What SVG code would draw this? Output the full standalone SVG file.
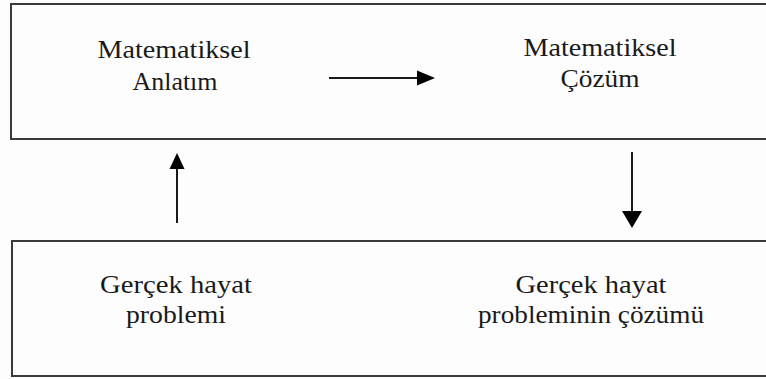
<svg xmlns="http://www.w3.org/2000/svg" width="766" height="379" viewBox="0 0 766 379">
  <style>
    .box { fill: none; stroke: #3a3a3a; stroke-width: 2; }
    .lbl { font-family: "Liberation Serif", "Times New Roman", serif; font-size: 24.5px; fill: #1a1a1a; text-anchor: middle; }
    .conn { stroke: #1a1a1a; stroke-width: 2; fill: none; }
    .head { fill: #000; }
  </style>
  <rect width="766" height="379" fill="#fdfdfd"/>

  <!-- upper band: mathematical model -->
  <g id="upper-band">
    <rect class="box" x="11" y="4" width="770" height="135"/>
  </g>
  <g id="node-anlatim">
    <text class="lbl" x="174" y="58" textLength="153" lengthAdjust="spacingAndGlyphs">Matematiksel</text>
    <text class="lbl" x="175" y="90" textLength="85" lengthAdjust="spacingAndGlyphs">Anlatım</text>
  </g>
  <g id="node-cozum">
    <text class="lbl" x="600" y="56" textLength="153" lengthAdjust="spacingAndGlyphs">Matematiksel</text>
    <text class="lbl" x="600" y="87" textLength="79" lengthAdjust="spacingAndGlyphs">Çözüm</text>
  </g>

  <!-- lower band: real life -->
  <g id="lower-band">
    <rect class="box" x="12" y="241" width="770" height="135"/>
  </g>
  <g id="node-problem">
    <text class="lbl" x="176" y="293" textLength="152" lengthAdjust="spacingAndGlyphs">Gerçek hayat</text>
    <text class="lbl" x="176" y="323" textLength="100" lengthAdjust="spacingAndGlyphs">problemi</text>
  </g>
  <g id="node-problem-cozum">
    <text class="lbl" x="591" y="293" textLength="151" lengthAdjust="spacingAndGlyphs">Gerçek hayat</text>
    <text class="lbl" x="591" y="323" textLength="226" lengthAdjust="spacingAndGlyphs">probleminin çözümü</text>
  </g>

  <!-- connectors -->
  <g id="connectors">
    <line class="conn" x1="329" y1="78" x2="418" y2="78"/>
    <polygon class="head" points="417,70.5 435,78 417,85.5"/>
    <line class="conn" x1="177" y1="223" x2="177" y2="168"/>
    <polygon class="head" points="169.5,169 177,153 184.5,169"/>
    <line class="conn" x1="632" y1="152" x2="632" y2="212"/>
    <polygon class="head" points="622,211 632,228 642,211"/>
  </g>
</svg>
